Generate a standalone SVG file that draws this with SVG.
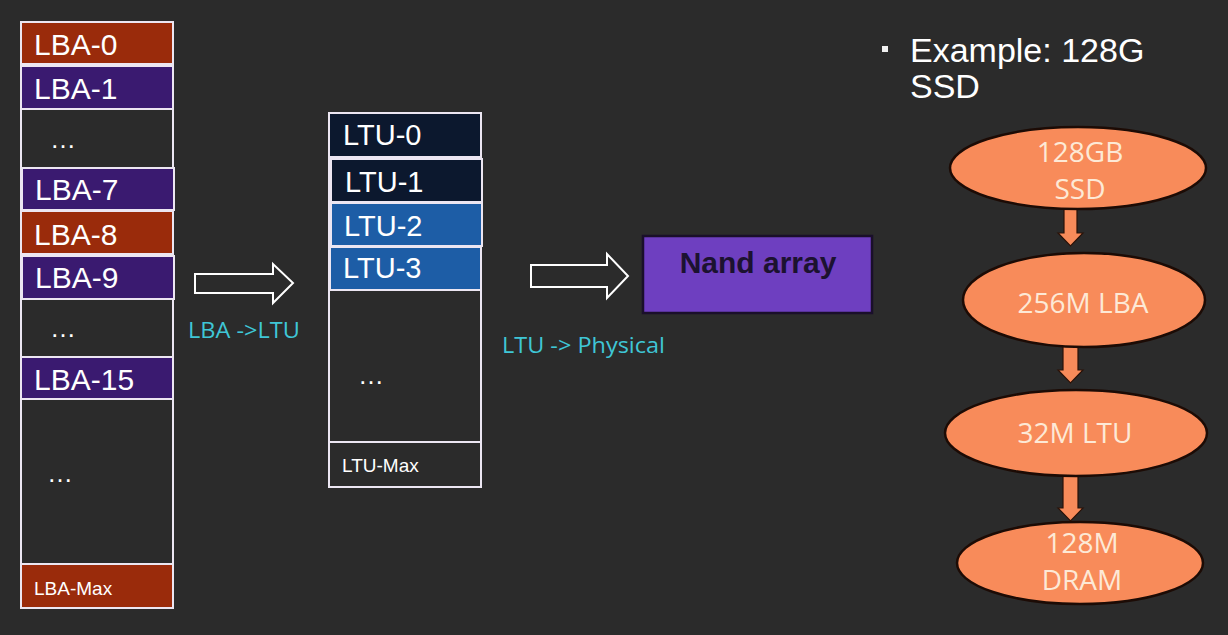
<svg xmlns="http://www.w3.org/2000/svg" width="1228" height="635" viewBox="0 0 1228 635">
<style>
.bg{fill:#2b2b2b}
.cell{stroke:#ece6f2;stroke-width:2}
.red{fill:#9a2b0b}
.pur{fill:#3a1a70}
.navy{fill:#0c182e}
.blue{fill:#1d5da6}
.none{fill:none}
.lbl{font-family:"Liberation Sans",Arial,sans-serif;fill:#ffffff}
.big{font-size:30px}
.mid{font-size:29px}
.sm{font-size:19px}
.dots{font-family:"Liberation Sans",Arial,sans-serif;font-size:26px;fill:#ffffff;letter-spacing:2px}
.hollow{fill:#2b2b2b;stroke:#ffffff;stroke-width:2;stroke-linejoin:miter}
.cyan{font-family:"Open Sans","Noto Sans",sans-serif;font-size:21px;fill:#3fc6d6}
.oval{fill:#f88b5a;stroke:#1c0b05;stroke-width:2.5}
.otxt{font-family:"Open Sans","Noto Sans",sans-serif;font-size:28px;fill:#fde9d6;text-anchor:middle}
.oarrow{fill:#f88b5a;stroke:#2a1208;stroke-width:1.2}
</style>
<rect class="bg" x="0" y="0" width="1228" height="635"/>

<g id="connectors">
  <polygon class="hollow" points="195,274 273,274 273,264 293,283 273,303 273,293 195,293"/>
  <polygon class="hollow" points="531,265 607,265 607,254 628,276 607,298 607,287 531,287"/>
  <polygon class="oarrow" points="1064,200 1077,200 1077,233 1083,233 1070.5,246 1058,233 1064,233"/>
  <polygon class="oarrow" points="1063,340 1078,340 1078,370 1083,370 1070.5,383 1058,370 1063,370"/>
  <polygon class="oarrow" points="1063,468 1078,468 1078,508 1083,508 1070.5,521 1058,508 1063,508"/>
  <text class="cyan" x="188" y="338" textLength="112" lengthAdjust="spacingAndGlyphs">LBA -&gt;LTU</text>
  <text class="cyan" x="502" y="353" textLength="163" lengthAdjust="spacingAndGlyphs">LTU -&gt; Physical</text>
</g>

<g id="lba-column">
  <rect class="cell none" x="21" y="22" width="152" height="586"/>
  <g id="lba-0"><rect class="cell red" x="21" y="22" width="152" height="42"/><text class="lbl big" x="34" y="55">LBA-0</text></g>
  <g id="lba-1"><rect class="cell pur" x="21" y="66" width="152" height="43"/><text class="lbl big" x="34" y="99">LBA-1</text></g>
  <g id="lba-dots-1"><text class="dots" x="50" y="148">…</text></g>
  <g id="lba-7"><rect class="cell pur" x="22" y="168" width="152" height="42"/><text class="lbl big" x="35" y="200">LBA-7</text></g>
  <g id="lba-8"><rect class="cell red" x="21" y="211" width="152" height="43"/><text class="lbl big" x="34" y="245">LBA-8</text></g>
  <g id="lba-9"><rect class="cell pur" x="22" y="256" width="152" height="43"/><text class="lbl big" x="35" y="288">LBA-9</text></g>
  <g id="lba-dots-2"><text class="dots" x="50" y="337">…</text></g>
  <g id="lba-15"><rect class="cell pur" x="21" y="357" width="152" height="42"/><text class="lbl big" x="34" y="390">LBA-15</text></g>
  <g id="lba-dots-3"><text class="dots" x="47" y="482">…</text></g>
  <g id="lba-max"><rect class="cell red" x="21" y="564" width="152" height="44"/><text class="lbl sm" x="34" y="595">LBA-Max</text></g>
</g>

<g id="ltu-column">
  <rect class="cell none" x="329" y="113" width="152" height="374"/>
  <g id="ltu-0"><rect class="cell navy" x="329" y="113" width="152" height="44"/><text class="lbl mid" x="343" y="145">LTU-0</text></g>
  <g id="ltu-1"><rect class="cell navy" x="331" y="159" width="151" height="43"/><text class="lbl mid" x="345" y="192">LTU-1</text></g>
  <g id="ltu-2"><rect class="cell blue" x="331" y="203" width="151" height="43"/><text class="lbl mid" x="344" y="236">LTU-2</text></g>
  <g id="ltu-3"><rect class="cell blue" x="330" y="247" width="151" height="43"/><text class="lbl mid" x="343" y="278">LTU-3</text></g>
  <g id="ltu-dots"><text class="dots" x="358" y="384">…</text></g>
  <g id="ltu-max"><line class="cell" x1="329" y1="442" x2="481" y2="442"/><text class="lbl sm" x="342" y="472">LTU-Max</text></g>
</g>

<g id="nand-array">
  <rect x="643" y="236" width="229" height="77" fill="#6e3fc0" stroke="#1a0f2a" stroke-width="2.5"/>
  <text x="758" y="273" text-anchor="middle" font-family="'Liberation Sans',Arial,sans-serif" font-weight="bold" font-size="30" fill="#1c1230">Nand array</text>
</g>

<g id="example-title">
  <rect x="882" y="46" width="6" height="6" fill="#f0f0f0"/>
  <text class="lbl" x="910" y="62" font-size="34" fill="#f2f2f2">Example: 128G</text>
  <text class="lbl" x="910" y="98" font-size="34" fill="#f2f2f2">SSD</text>
</g>

<g id="node-128gb-ssd">
  <ellipse class="oval" cx="1078" cy="168" rx="128" ry="41"/>
  <text class="otxt" x="1080" y="162">128GB</text>
  <text class="otxt" x="1080" y="199">SSD</text>
</g>
<g id="node-256m-lba">
  <ellipse class="oval" cx="1084" cy="300" rx="121" ry="47"/>
  <text class="otxt" x="1083" y="313">256M LBA</text>
</g>
<g id="node-32m-ltu">
  <ellipse class="oval" cx="1076" cy="433" rx="131" ry="43"/>
  <text class="otxt" x="1075" y="443">32M LTU</text>
</g>
<g id="node-128m-dram">
  <ellipse class="oval" cx="1080" cy="563" rx="123" ry="41"/>
  <text class="otxt" x="1082" y="553">128M</text>
  <text class="otxt" x="1082" y="590">DRAM</text>
</g>
</svg>
